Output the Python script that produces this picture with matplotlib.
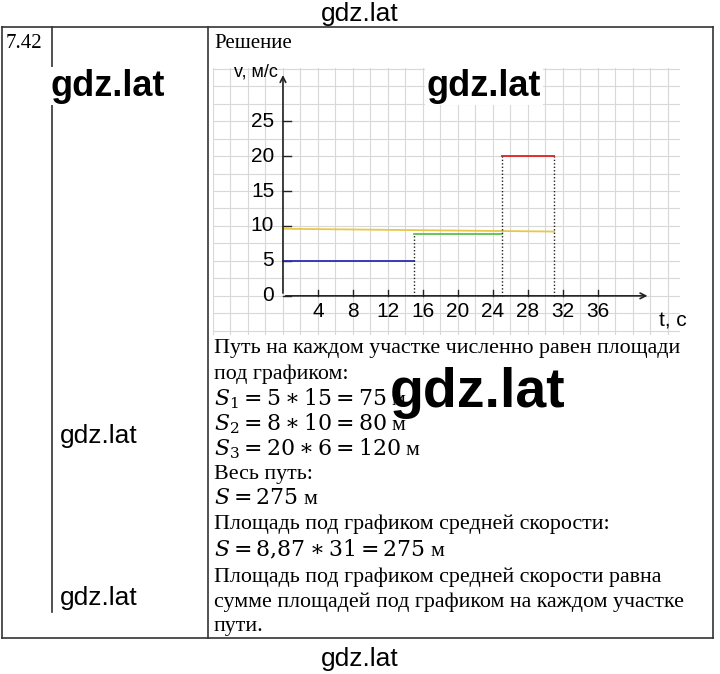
import matplotlib
matplotlib.use("Agg")
import matplotlib.pyplot as plt

W, H = 720, 674

# piecewise speed segments: (t_start, t_end, v, colour)
seg_t0 = [0, 15, 25]
seg_t1 = [15, 25, 31]
seg_v = [5, 8.8, 20]
seg_colors = ["#2b2bb0", "#5cc24a", "#e02020"]
avg_t = [0, 31]
avg_v = [9.6, 9.2]
dotted_t = [15, 25, 31]
dotted_top = [8.8, 20, 20]
xticks = [4, 8, 12, 16, 20, 24, 28, 32, 36]
yticks = [0, 5, 10, 15, 20, 25]

text_lines = [
    "Путь на каждом участке численно равен площади",
    "под графиком:",
    r"$S_1 = 5 \ast 15 = 75$ м",
    r"$S_2 = 8 \ast 10 = 80$ м",
    r"$S_3 = 20 \ast 6 = 120$ м",
    "Весь путь:",
    r"$S = 275$ м",
    "Площадь под графиком средней скорости:",
    r"$S = 8{,}87 \ast 31 = 275$ м",
    "Площадь под графиком средней скорости равна",
    "сумме площадей под графиком на каждом участке",
    "пути.",
]
text_y = [349, 374, 399, 424, 449, 474, 499, 524, 550, 577, 602, 627]

fig = plt.figure(figsize=(W / 100, H / 100), dpi=100)

# chart, placed in pixel box x 213..680, y 68..335
ax = fig.add_axes([213 / W, 1 - 335 / H, (680 - 213) / W, (335 - 68) / H])
ax.set_xlim(-8, 45.4)
ax.set_ylim(-5.6, 32.6)
ax.axis("off")

base = fig.add_axes([0, 0, 1, 1])
base.set_xlim(0, W)
base.set_ylim(H, 0)
base.axis("off")

for gx in range(-8, 46, 2):
    ax.axvline(gx, color="#d8d8d8", lw=0.8, zorder=0)
for k in range(-2, 14):
    ax.axhline(k * 2.5, color="#d8d8d8", lw=0.8, zorder=0)
ax.annotate("", xy=(42, 0), xytext=(0, 0),
            arrowprops=dict(arrowstyle="->", color="#222", lw=1.2))
ax.annotate("", xy=(0, 32), xytext=(0, 0),
            arrowprops=dict(arrowstyle="->", color="#222", lw=1.2))
sans = "Liberation Sans"
for t in xticks:
    ax.plot([t, t], [0, 0.9], color="#222", lw=1)
    ax.text(t, -0.9, str(t), ha="center", va="top", fontsize=15, family=sans)
for v in yticks:
    ax.plot([0, 0.9], [v, v], color="#222", lw=1)
    ax.text(-1, v, str(v), ha="right", va="center", fontsize=15, family=sans)
ax.text(44.6, -2.2, "t, с", ha="center", va="top", fontsize=15, family=sans)
ax.text(-0.6, 32, "v, м/с", ha="right", va="center", fontsize=13, family=sans)
for t0, t1, v, c in zip(seg_t0, seg_t1, seg_v, seg_colors):
    ax.plot([t0, t1], [v, v], color=c, lw=1.3)
ax.plot(avg_t, avg_v, color="#e8c84a", lw=1.3)
for t, top in zip(dotted_t, dotted_top):
    ax.plot([t, t], [0, top], color="#222", lw=1, ls=(0, (1, 1.5)))

# table lines
k = dict(color="#333", lw=1.2)
base.plot([2, 713], [27, 27], **k)
base.plot([2, 713], [638, 638], **k)
base.plot([2, 2], [27, 638], **k)
base.plot([713, 713], [27, 638], **k)
base.plot([208, 208], [27, 638], **k)
base.plot([52, 52], [27, 612], **k)

serif = ["Liberation Serif", "DejaVu Serif"]
base.text(6, 43, "7.42", fontsize=15, family=serif, va="center")
base.text(214, 43, "Решение", fontsize=15, family=serif, va="center")
for s, y in zip(text_lines, text_y):
    base.text(214, y, s, fontsize=15.8, family=serif, va="center",
              math_fontfamily="dejavuserif")

# watermarks
base.text(360, 14, "gdz.lat", fontsize=19, family=sans, ha="center", va="center")
base.text(360, 659, "gdz.lat", fontsize=19, family=sans, ha="center", va="center")
base.text(99, 436, "gdz.lat", fontsize=19, family=sans, ha="center", va="center",
          bbox=dict(fc="white", ec="none", pad=0))
base.text(99, 598, "gdz.lat", fontsize=19, family=sans, ha="center", va="center",
          bbox=dict(fc="white", ec="none", pad=0))
bw = dict(fc="white", ec="none", pad=1)
base.text(108, 86, "gdz.lat", fontsize=26, family=sans, weight="bold",
          ha="center", va="center", bbox=bw)
base.text(484, 86, "gdz.lat", fontsize=26, family=sans, weight="bold",
          ha="center", va="center", bbox=bw)
base.text(478, 393, "gdz.lat", fontsize=40, family=sans, weight="bold",
          ha="center", va="center")

fig.savefig("out.png", dpi=100, facecolor="white")
